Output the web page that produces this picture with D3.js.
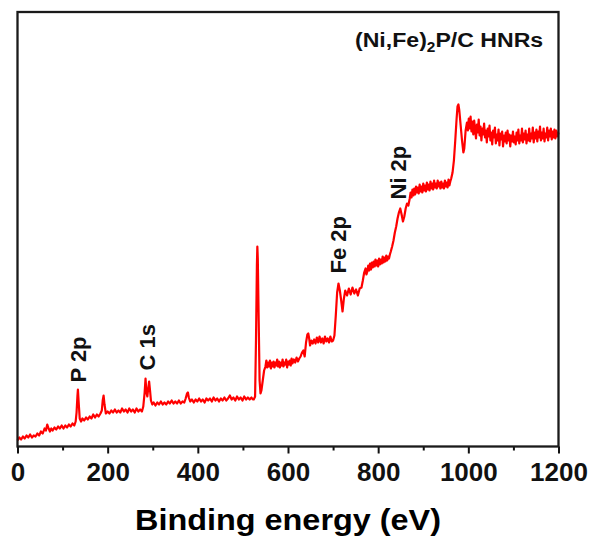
<!DOCTYPE html>
<html>
<head>
<meta charset="utf-8">
<script src="https://cdn.jsdelivr.net/npm/d3@7"></script>
<style>
  html, body { margin: 0; padding: 0; background: #fff; }
  svg { display: block; font-family: "Liberation Sans", Arial, sans-serif; }
</style>
</head>
<body>
<div id="chart"></div>
<script>
// XPS survey: [binding energy (eV), intensity (a.u.)]
const lowRegion = [
  [0,6],[4,9],[8,7],[12,10],[16,8],[20,11],[24,9],[28,12],[32,9],[36,11],[40,10],[44,13],[48,11],[52,15],
  [56,13],[60,18],[63,16],[66,22],[69,18],[72,15],[75,18],[78,16],[82,19],[86,17],[90,20],[94,18],[98,21],
  [102,18],[106,21],[110,19],[114,22],[118,20],[122,23],[126,21],[129,25],[131,34],[133,51],[134,57],[136,42],
  [138,28],[141,25],[144,28],[148,26],[152,29],[156,27],[160,30],[164,28],[168,32],[172,29],[176,32],[180,30],
  [184,33],[187,36],[189,46],[191,51],[193,42],[196,33],[200,35],[204,33],[208,36],[212,34],[216,37],[220,34],
  [224,36],[228,34],[232,38],[236,35],[240,37],[244,34],[248,38],[252,35],[256,37],[260,34],[264,38],[268,35],
  [272,37],[276,35],[279,40],[282,54],[284,68],[286,54],[288,50],[290,58],[292,65],[294,56],[296,46],[299,42],
  [302,44],[306,41]
];
const midRegion = [
  [310,44],[314,42],[318,45],[322,42],[326,44],[330,42],[334,45],[338,43],[342,46],[346,43],[350,45],[354,43],
  [358,46],[362,43],[366,45],[370,44],[373,48],[376,53],[378,54],[380,49],[383,45],[387,47],[391,44],[395,47],
  [399,45],[403,48],[407,45],[411,47],[415,44],[419,48],[423,46],[427,48],[431,45],[435,49],[439,46],[443,48],
  [447,45],[451,48],[455,46],[459,49],[463,46],[467,48],[471,51],[475,47],[479,49],[483,46],[487,50],[491,47],
  [495,49],[499,46],[503,50],[507,47],[511,49],[515,47],[519,49],[522,47],[524,47],[527,50]
];
const oxygenRegion = [
  [529,106],[531,181],[532,200],[533,188],[535,126],[537,66],[539,53],[541,56],[544,66],[547,76],[550,80],
  [552,86],[554,79],[556,84],[558,80],[560,86],[562,78],[564,84],[566,80],[568,85],[570,79],[572,84],[574,81],
  [576,87],[578,80],[580,85],[582,79],[584,84],[586,81],[588,87],[590,80],[592,84],[594,82],[596,87],[598,79],
  [600,85],[602,82],[604,86],[606,81],[608,88],[610,83],[613,87],[616,84],[619,89],[622,85],
  [625,88],[628,90],[631,94],[634,96],[637,90],[640,104],[643,112],[645,113],[647,108],[649,101],[652,106],
  [655,103],[658,107],[661,103],[664,109],[667,104],[670,110],[673,104],[676,108],[679,103],[682,110],[685,105],
  [688,108],[691,104],[694,110],[697,105],[700,106]
];
const metalRegion = [
  [703,111],[706,131],[709,154],[712,163],[715,156],[718,146],[721,135],[724,148],[727,156],[731,151],[735,158],
  [739,152],[743,159],[747,153],[751,157],[755,151],[759,158],[763,159],[766,166],[769,174],[772,178],[774,172],
  [776,175],[778,181],[780,176],[782,183],[784,177],[786,184],[788,179],[790,185],[792,180],[794,187],[796,181],
  [798,186],[800,180],[802,188],[804,182],[806,187],[808,183],[810,190],[812,184],[814,189],[816,185],[818,191],
  [820,186],[822,190],[824,188],[826,192],[828,195],[831,200],[834,206],[837,214],[840,220],[843,228],[846,234],
  [849,238],[852,232],[855,225],[858,230],[861,238],[864,243],[867,241],[870,248],[872,254],[874,249],[876,257],
  [878,251],[880,258],[882,252],[884,260],[886,254],[888,259],[890,253],[892,262],[894,255],[896,260],[898,254],
  [900,263],[902,256],[904,261],[906,255],[908,264],[910,257],[912,262],[914,256],[916,265],[918,258],[920,263],
  [922,257],[924,266],[926,259],[928,263],[930,258],[932,266],[934,260],[936,264],[938,258],[940,265],[942,259],
  [944,263],[946,258],[948,266],[950,260],[952,264],[954,259],[956,267],[958,261],[960,265]
];
const highRegion = [
  [962,268],[965,274],[968,286],[971,306],[974,328],[976,340],[978,342],[980,336],[983,321],[986,306],[989,294],
  [991,298],[994,316],[997,324],[999,316],[1001,328],[1003,318],[1005,330],[1007,315],[1009,325],[1011,312],
  [1013,326],[1015,317],[1017,308],[1019,322],[1021,314],[1023,327],[1025,311],[1027,320],[1029,306],[1031,318],
  [1033,312],[1035,323],[1037,309],[1039,316],[1041,304],[1043,318],[1045,310],[1047,321],[1049,306],[1051,314],
  [1053,302],[1055,316],[1057,309],[1059,319],[1061,303],[1063,312],[1065,306],[1067,317],[1069,301],[1071,313],
  [1073,307],[1075,315],[1077,300],[1079,311],[1081,305],[1083,314],[1085,303],[1087,316],[1089,306],[1091,312],
  [1093,300],[1095,311],[1097,305],[1099,315],[1101,304],[1103,310],[1105,302],[1107,314],[1109,306],[1111,317],
  [1113,303],[1115,311],[1117,306],[1119,318],[1121,304],[1123,313],[1125,307],[1127,316],[1129,303],[1131,312],
  [1133,306],[1135,318],[1137,305],[1139,313],[1141,308],[1143,319],[1145,304],[1147,314],[1149,308],[1151,317],
  [1153,305],[1155,315],[1157,309],[1159,320],[1161,306],[1163,314],[1165,308],[1167,318],[1169,305],[1171,313],
  [1173,309],[1175,319],[1177,306],[1179,316],[1181,310],[1183,318],[1185,307],[1187,315],[1189,309],[1191,317],
  [1193,308],[1195,316],[1197,310],[1199,314],[1200,312]
];

const majorTicks = [0, 200, 400, 600, 800, 1000, 1200];
const minorTicks = [100, 300, 500, 700, 900, 1100];

// peak labels: energy of the label, intensity where the label starts
const peakLabels = [
  { text: "P 2p", energy: 134, level: 64 },
  { text: "C 1s", energy: 287, level: 76 },
  { text: "Fe 2p", energy: 711, level: 173 },
  { text: "Ni 2p", energy: 844, level: 247 }
];

const spectrum = lowRegion.concat(midRegion, oxygenRegion, metalRegion, highRegion);

const W = 590, H = 540;
const margin = { top: 12, right: 31.5, bottom: 93.5, left: 17.5 };
const width = W - margin.left - margin.right,
    height = H - margin.top - margin.bottom;

const svg = d3.select("#chart").append("svg")
    .attr("width", W)
    .attr("height", H);

const g = svg.append("g")
    .attr("transform", `translate(${margin.left},${margin.top})`);

const x = d3.scaleLinear().domain([0, 1200]).range([0, width]);
const y = d3.scaleLinear().domain([0, height]).range([height, 0]);

// spectrum line
const line = d3.line()
    .x(d => x(d[0]))
    .y(d => y(d[1]));

g.append("path")
    .datum(spectrum)
    .attr("fill", "none")
    .attr("stroke", "#ff0000")
    .attr("stroke-width", 2.2)
    .attr("stroke-linejoin", "round")
    .attr("d", line);

// minor ticks
g.append("g")
    .attr("transform", `translate(0,${height})`)
    .call(d3.axisBottom(x).tickValues(minorTicks).tickSize(4).tickFormat(""))
    .call(a => a.select(".domain").remove())
    .selectAll("line").attr("stroke", "#111").attr("stroke-width", 2);

// major ticks + labels
const xAxis = g.append("g")
    .attr("transform", `translate(0,${height})`)
    .call(d3.axisBottom(x).tickValues(majorTicks).tickSize(7).tickPadding(9).tickFormat(d3.format("d")));
xAxis.select(".domain").remove();
xAxis.selectAll("line").attr("stroke", "#111").attr("stroke-width", 2);
xAxis.selectAll("text")
    .attr("fill", "#111")
    .style("font-family", "'Liberation Sans', Arial, sans-serif")
    .style("font-size", "26px")
    .style("font-weight", "bold");

// frame
g.append("rect")
    .attr("x", 0).attr("y", 0)
    .attr("width", width).attr("height", height)
    .attr("fill", "none")
    .attr("stroke", "#1a1a1a")
    .attr("stroke-width", 2.3);

// peak labels (rotated)
g.selectAll(".peak")
    .data(peakLabels)
    .enter()
    .append("text")
    .attr("class", "peak")
    .attr("transform", d => `translate(${x(d.energy) + 8},${y(d.level)}) rotate(-90)`)
    .attr("fill", "#111")
    .style("font-size", "22px")
    .style("font-weight", "bold")
    .text(d => d.text);

// title
const title = svg.append("text")
    .attr("transform", "translate(355,47) scale(1.1,1)")
    .attr("fill", "#111")
    .style("font-size", "21px")
    .style("font-weight", "bold");
title.append("tspan").text("(Ni,Fe)");
title.append("tspan").attr("dy", 5).style("font-size", "14px").text("2");
title.append("tspan").attr("dy", -5).text("P/C HNRs");

// x axis title
svg.append("text")
    .attr("x", margin.left + width / 2)
    .attr("y", 530)
    .attr("text-anchor", "middle")
    .attr("textLength", 306)
    .attr("lengthAdjust", "spacingAndGlyphs")
    .attr("fill", "#000")
    .style("font-size", "29px")
    .style("font-weight", "bold")
    .text("Binding energy (eV)");
</script>
</body>
</html>
